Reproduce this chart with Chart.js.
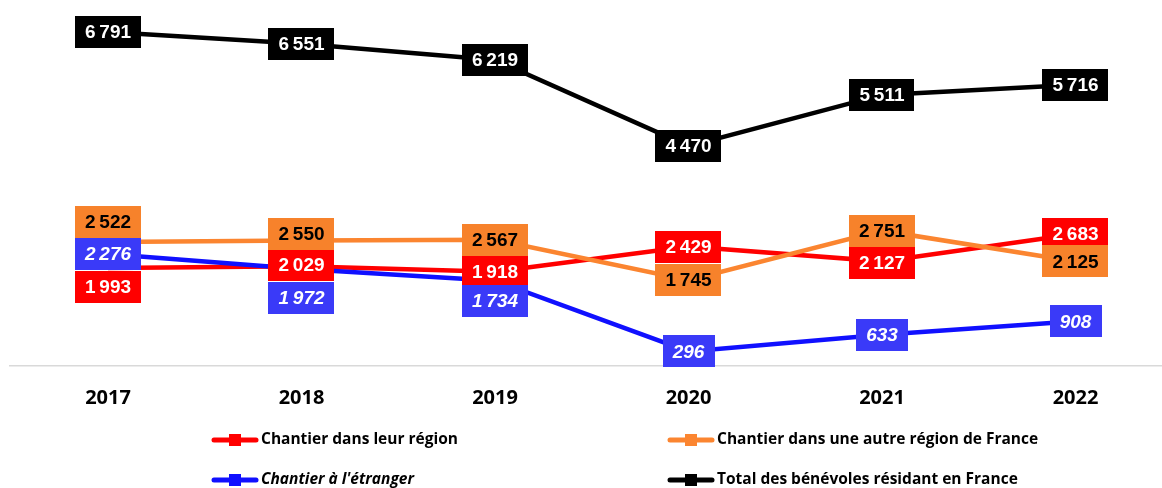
<!DOCTYPE html>
<html><head><meta charset="utf-8">
<script src="https://cdn.jsdelivr.net/npm/chart.js@4.4.1/dist/chart.umd.min.js"></script>
<style>html,body{margin:0;padding:0;background:#fff;overflow:hidden}#wrap{width:1162px;height:488px;position:relative}</style>
</head><body><div id="wrap"><canvas id="c" width="1162" height="488"></canvas></div>
<script>
// ---- data ----
const years = ['2017','2018','2019','2020','2021','2022'];
const regionVals   = [1993, 2029, 1918, 2429, 2127, 2683];
const autreVals    = [2522, 2550, 2567, 1745, 2751, 2125];
const etrangerVals = [2276, 1972, 1734, 296, 633, 908];
const totalVals    = [6791, 6551, 6219, 4470, 5511, 5716];
const seriesNames  = ['Chantier dans leur région', 'Chantier dans une autre région de France', "Chantier à l'étranger", 'Total des bénévoles résidant en France'];

// ---- styling (label placement offsets in px, relative to the point) ----
const styles = [
  {line:'#ff0000', box:'#ff0000', text:'#ffffff', italic:false, dy:[19,-1,0,0,1.5,0]},
  {line:'#fb8530', box:'#f7822b', text:'#000000', italic:false, dy:[-20,-7,0,0,0,0]},
  {line:'#1010ff', box:'#3a3af8', text:'#ffffff', italic:true,  dy:[0,29,20,0,0,0]},
  {line:'#000000', box:'#000000', text:'#ffffff', italic:false, dy:[0,0,0,0,0,0]}
];
const seriesVals = [regionVals, autreVals, etrangerVals, totalVals];

function fmt(v){
  return v >= 1000 ? Math.floor(v/1000) + '\u202F' + String(v%1000).padStart(3,'0') : String(v);
}

const labelPlugin = {
  id:'boxLabels',
  afterDatasetsDraw(chart){
    const ctx = chart.ctx;
    chart.data.datasets.forEach((ds, di) => {
      const meta = chart.getDatasetMeta(di);
      const st = styles[di];
      ctx.save();
      ctx.font = (st.italic ? 'italic ' : '') + 'bold 19px "Liberation Sans", Arial, sans-serif';
      ctx.textAlign = 'center';
      ctx.textBaseline = 'middle';
      meta.data.forEach((pt, i) => {
        const txt = fmt(ds.data[i].y);
        const w = ctx.measureText(txt).width + 20;
        const h = 32;
        const cx = pt.x, cy = pt.y + st.dy[i];
        ctx.fillStyle = st.box;
        ctx.fillRect(Math.round(cx - w/2), Math.round(cy - h/2), Math.round(w), h);
        ctx.fillStyle = st.text;
        ctx.fillText(txt, cx, cy + 1);
      });
      ctx.restore();
    });
  }
};

const legendPlugin = {
  id:'gridLegend',
  afterDraw(chart){
    const ctx = chart.ctx;
    const pos = [[212,440],[668,440],[212,480],[668,480]];
    const order = [0,1,2,3];
    ctx.save();
    order.forEach((di, k) => {
      const [x, y] = pos[k];
      const st = styles[di];
      ctx.strokeStyle = st.line;
      ctx.lineWidth = 5;
      ctx.lineCap = 'round';
      ctx.beginPath(); ctx.moveTo(x+2, y); ctx.lineTo(x+44, y); ctx.stroke();
      ctx.fillStyle = st.line;
      ctx.fillRect(x+17, y-6, 12, 12);
      ctx.fillStyle = '#000';
      ctx.font = (st.italic ? 'italic ' : '') + 'bold 15.5px "Open Sans", Lato, sans-serif';
      ctx.textAlign = 'left';
      ctx.textBaseline = 'middle';
      ctx.fillText(chart.data.datasets[di].label, x + 49, y);
    });
    ctx.restore();
  }
};

const datasets = seriesVals.map((vals, di) => ({
  label: seriesNames[di],
  data: vals.map((v, i) => ({x: i, y: v})),
  borderColor: styles[di].line,
  backgroundColor: styles[di].line,
  borderWidth: 4.5,
  pointRadius: 0,
  tension: 0,
  order: 3 - di
}));

new Chart(document.getElementById('c'), {
  type: 'line',
  data: { datasets },
  plugins: [labelPlugin, legendPlugin],
  options: {
    responsive: false,
    devicePixelRatio: 1,
    animation: false,
    layout: { padding: { left: 10, right: 0, top: 0, bottom: 0 } },
    plugins: { legend: { display: false }, tooltip: { enabled: false } },
    scales: {
      x: {
        type: 'linear',
        min: -0.5065, max: 5.447,
        afterFit(s){ s.height = 488 - 366; },
        grid: { display: false, drawTicks: false },
        border: { display: true, color: '#d9d9d9', width: 1.5 },
        ticks: {
          stepSize: 1, includeBounds: false, autoSkip: false, maxRotation: 0,
          padding: 20, color: '#000',
          font: { family: '"Open Sans"', weight: 'bold', size: 20 },
          callback: (v) => Number.isInteger(v) ? years[v] : ''
        }
      },
      y: { display: false, min: 0, max: 7440 }
    }
  }
});
</script>
</body></html>
